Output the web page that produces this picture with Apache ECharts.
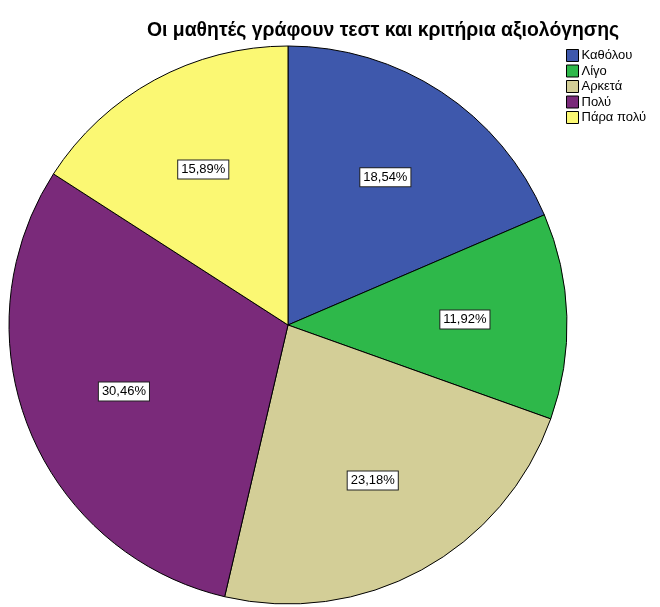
<!DOCTYPE html>
<html>
<head>
<meta charset="utf-8">
<script src="https://cdn.jsdelivr.net/npm/echarts@6/dist/echarts.min.js"></script>
<style>
  html, body { margin: 0; padding: 0; background: #fff; }
  #chart { width: 660px; height: 607px; }
</style>
</head>
<body>
<div id="chart"></div>
<script>
// Response categories and their shares (%)
const categories = ['Καθόλου', 'Λίγο', 'Αρκετά', 'Πολύ', 'Πάρα πολύ'];
const percentages = [18.54, 11.92, 23.18, 30.46, 15.89];
const sliceColors = ['#3E58AC', '#2EB84A', '#D3CE97', '#7A2A7A', '#FBF873'];
const chartTitle = 'Οι μαθητές γράφουν τεστ και κριτήρια αξιολόγησης';

const fontFamily = '"Liberation Sans", Arial, sans-serif';

const pieData = categories.map((name, i) => ({
  name: name,
  value: percentages[i],
  itemStyle: { color: sliceColors[i] }
}));

const chart = echarts.init(document.getElementById('chart'), null, { renderer: 'canvas' });

chart.setOption({
  animation: false,
  backgroundColor: '#ffffff',
  title: {
    text: chartTitle,
    left: 378,
    top: 16,
    textAlign: 'center',
    textStyle: { fontFamily: fontFamily, fontSize: 19.4, fontWeight: 'bold', color: '#000' }
  },
  legend: {
    orient: 'vertical',
    left: 561,
    top: 44,
    itemWidth: 12,
    itemHeight: 12,
    itemGap: 2.5,
    icon: 'rect',
    selectedMode: false,
    data: categories,
    itemStyle: { borderColor: '#000', borderWidth: 1 },
    textStyle: { fontFamily: fontFamily, fontSize: 13, color: '#000', padding: [0, 0, 0, -2] }
  },
  series: [
    {
      // the coloured slices
      type: 'pie',
      center: [288, 325],
      radius: [0, 279],
      startAngle: 90,
      clockwise: true,
      silent: true,
      data: pieData,
      itemStyle: { borderColor: '#000', borderWidth: 1 },
      label: { show: false },
      labelLine: { show: false }
    },
    {
      // transparent ring that carries the percentage boxes
      type: 'pie',
      center: [288, 325],
      radius: [90, 258],
      startAngle: 90,
      clockwise: true,
      silent: true,
      legendHoverLink: false,
      data: categories.map((name, i) => ({ name: name, value: percentages[i] })),
      itemStyle: { color: 'rgba(0,0,0,0)', borderWidth: 0 },
      label: {
        show: true,
        position: 'inside',
        formatter: p => p.value.toFixed(2).replace('.', ',') + '%',
        fontFamily: fontFamily,
        fontSize: 13,
        color: '#000',
        backgroundColor: '#fff',
        borderColor: '#222',
        borderWidth: 1,
        padding: [3, 3, 2, 3]
      },
      labelLine: { show: false }
    }
  ]
});
</script>
</body>
</html>
